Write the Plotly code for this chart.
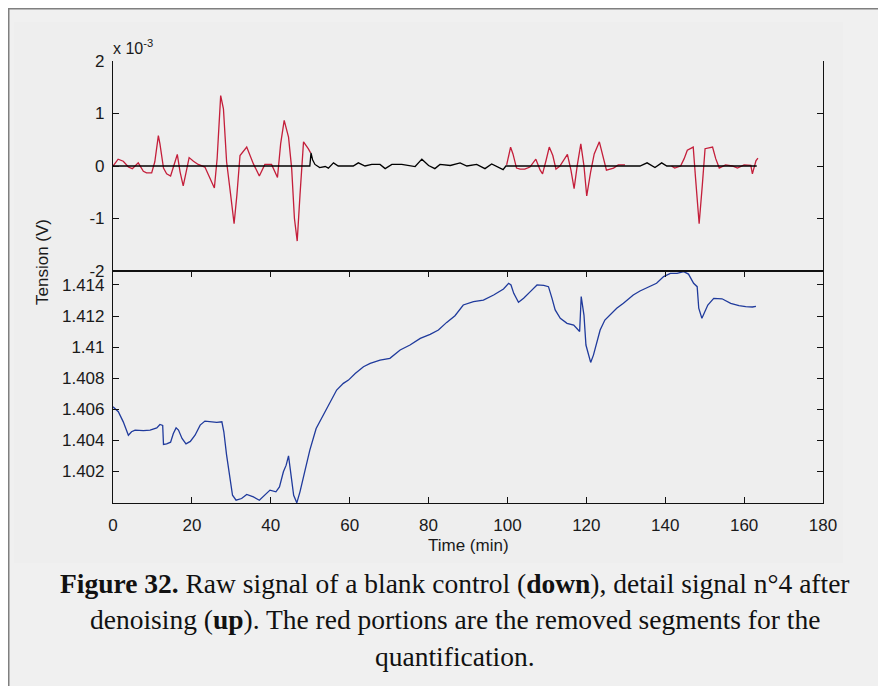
import plotly.graph_objects as go

# page is 886x686; the html body adds an 8 px margin, so the figure is 878x678
W, H = 878, 678
OFF = 8

# ---------------- data ----------------
# Top panel: detail signal n°4 after denoising (values in units of 1e-3 V)
red_t = [0, 1.3, 2.6, 3.9, 4.9, 6.4, 7.7, 8.5, 9.8, 10.6, 11.5, 11.9, 12.8, 13.6, 14.6, 15.5,
         16.3, 17.0, 17.8, 18.5, 19.3, 20.4, 21.6, 23.3, 24.6, 25.7, 26.4, 27.3, 28.0, 28.8,
         29.8, 30.7, 31.4, 32.2, 33.9, 35.6, 37.1, 38.5, 40.2, 41.7, 42.5, 43.4, 44.5, 45.3,
         46.0, 46.7, 47.4, 48.3, 49.5, 50.1, None,
         99.8, 100.8, 101.4, 102.3, 103.2, 104.4, 105.7, 107.2, 108.3, 108.9, 109.8, 110.6,
         111.5, 112.3, 113.3, 114.4, 115.2, 116.1, 116.9, 117.7, 118.6, 119.4, 120.1, 121.1,
         122.0, 123.3, 124.2, 125.1, 126.9, 128.1, 129.8, None,
         141.6, 142.4, 143.9, 144.8, 145.6, 147.1, 147.7, 148.6, 149.4, 150.1, 152.0, 152.8,
         153.7, 155.3, 157.0, 158.3, 160.0, 161.7, 162.1, 163.0, 163.5]
red_v = [0, 0.13, 0.09, -0.02, -0.05, 0.06, -0.10, -0.13, -0.13, 0.08, 0.58, 0.42, -0.04, -0.15,
         -0.19, 0.01, 0.22, -0.11, -0.38, -0.13, 0.16, 0.09, 0.03, -0.02, -0.23, -0.42, 0.14,
         1.34, 1.09, 0.08, -0.53, -1.10, -0.56, 0.20, 0.36, 0.04, -0.19, 0.03, 0.03, -0.22,
         0.42, 0.87, 0.55, -0.05, -1.00, -1.43, -0.56, 0.46, 0.33, 0.25, None,
         0.02, 0.36, 0.23, -0.04, -0.06, -0.06, -0.02, 0.13, -0.08, -0.15, 0.11, 0.36, 0.20,
         -0.06, 0.00, 0.14, 0.22, -0.08, -0.43, 0.01, 0.42, 0.00, -0.57, -0.11, 0.23, 0.46,
         0.17, -0.08, -0.04, 0.02, 0.02, None,
         0.00, -0.04, 0.00, 0.14, 0.30, 0.36, -0.24, -1.10, -0.37, 0.33, 0.36, 0.14, -0.04,
         0.02, 0.00, -0.04, 0.02, 0.01, -0.15, 0.10, 0.15]

black_t = [0, 49.9, 50.2, 50.6, 51.2, 51.8, 52.4, 53.8, 54.6, 55.9, 57.1, 60.9, 62.2, 63.9,
           65.6, 67.7, 69.0, 70.7, 73.2, 76.6, 78.3, 80.0, 81.6, 82.9, 85.5, 88.0, 89.7, 92.2,
           94.3, 96.0, 97.7, 98.9, 99.6, 129.9, 131.1, 133.6, 135.4, 137.4, 139.1, 140.4,
           141.6, 163.2]
black_v = [0, 0, 0.25, 0.12, 0.03, 0.00, -0.03, -0.01, -0.04, 0.06, 0.00, 0.00, 0.06, 0.00,
           0.03, 0.03, -0.05, 0.03, 0.03, -0.01, 0.13, 0.01, -0.05, 0.03, 0.01, 0.06, 0.00,
           0.03, -0.05, 0.04, -0.02, -0.07, 0.00, 0.00, 0.00, 0.00, 0.06, -0.03, 0.06, 0.00,
           0.00, 0.00]

# Bottom panel: raw signal of a blank control (V)
blue_t = [0.0, 1.35, 2.6, 3.9, 4.7, 5.6, 7.7, 9.4, 11.1, 11.9, 12.6, 12.8, 13.6, 14.6, 15.3,
          16.0, 16.6, 17.5, 18.5, 19.6, 20.8, 22.1, 23.3, 24.6, 26.3, 27.6, 28.1, 28.8, 29.7,
          30.3, 31.2, 32.6, 33.9, 35.6, 37.1, 38.5, 39.8, 41.3, 42.2, 43.2, 43.9, 44.5, 45.1,
          45.8, 46.6, 47.4, 48.7, 49.9, 51.5, 52.9, 54.6, 56.7, 58.4, 59.7, 61.4, 63.5, 65.2,
          67.7, 70.2, 72.8, 75.3, 77.9, 80.4, 82.5, 84.6, 86.7, 88.8, 91.4, 93.9, 96.5, 99.0,
          100.3, 100.9, 101.6, 102.8, 104.1, 105.8, 107.5, 109.2, 110.4, 111.3, 112.1, 113.4,
          115.1, 116.8, 117.8, 118.3, 118.7, 119.4, 119.9, 120.5, 121.1, 121.8, 122.6, 123.5,
          124.7, 126.0, 127.7, 129.4, 131.9, 133.6, 136.1, 137.8, 139.6, 141.3, 143.0, 144.7,
          145.9, 147.2, 148.1, 148.5, 149.3, 149.9, 150.8, 152.3, 154.4, 156.6, 158.7, 160.4,
          162.1, 163.0]
blue_v = [1.40615, 1.40583, 1.40518, 1.40432, 1.40454, 1.40465, 1.40461, 1.40465, 1.40479,
          1.40501, 1.40495, 1.40372, 1.40376, 1.40387, 1.40443, 1.40479, 1.40465, 1.40411,
          1.40376, 1.40392, 1.40432, 1.40497, 1.40523, 1.40518, 1.40514, 1.40518, 1.40454,
          1.40303, 1.40153, 1.40045, 1.40013, 1.40024, 1.40050, 1.40034, 1.40013, 1.40045,
          1.40078, 1.40067, 1.40099, 1.40196, 1.40239, 1.40299, 1.40174, 1.40045, 1.39996,
          1.40067, 1.40207, 1.40336, 1.40475, 1.40540, 1.40626, 1.40723, 1.40766, 1.40787,
          1.40830, 1.40873, 1.40895, 1.40916, 1.40927, 1.40981, 1.41013, 1.41056, 1.41082,
          1.41110, 1.41159, 1.41202, 1.41271, 1.41292, 1.41303, 1.41335, 1.41374, 1.41411,
          1.41400, 1.41346, 1.41288, 1.41314, 1.41357, 1.41400, 1.41397, 1.41389, 1.41314,
          1.41239, 1.41185, 1.41153, 1.41142, 1.41110, 1.41100, 1.41325, 1.41206, 1.41013,
          1.40948, 1.40901, 1.40948, 1.41034, 1.41110, 1.41174, 1.41206, 1.41250, 1.41282,
          1.41335, 1.41361, 1.41389, 1.41411, 1.41454, 1.41475, 1.41475, 1.41486, 1.41470,
          1.41411, 1.41389, 1.41250, 1.41185, 1.41218, 1.41271, 1.41314, 1.41311, 1.41282,
          1.41267, 1.41260, 1.41258, 1.41262]

x_ticks = [0, 20, 40, 60, 80, 100, 120, 140, 160, 180]
top_tickvals = [-2, -1, 0, 1, 2]
top_ticktext = ["-2", "-1", "0", "1", "2"]
bot_tickvals = [1.402, 1.404, 1.406, 1.408, 1.410, 1.412, 1.414]
bot_ticktext = ["1.402", "1.404", "1.406", "1.408", "1.41", "1.412", "1.414"]

# ---------------- figure ----------------
def px(x):
    return (x - OFF) / W

def py(y):
    return 1 - (y - OFF) / H

fig = go.Figure()
fig.add_trace(go.Scatter(x=red_t, y=red_v, mode="lines", xaxis="x2", yaxis="y2",
                         line=dict(color="#c41e3a", width=1.3), showlegend=False))
fig.add_trace(go.Scatter(x=black_t, y=black_v, mode="lines", xaxis="x2", yaxis="y2",
                         line=dict(color="#000000", width=1.3), showlegend=False))
fig.add_trace(go.Scatter(x=blue_t, y=blue_v, mode="lines", xaxis="x", yaxis="y",
                         line=dict(color="#1f3a9c", width=1.3), showlegend=False))

tickfont = dict(family="Liberation Sans, Arial, sans-serif", size=17, color="#1a1a1a")
xdom = [px(113), px(823)]
axcommon = dict(showgrid=False, zeroline=False, showline=True, linecolor="#111111",
                linewidth=1.2, tickcolor="#111111", tickwidth=1.2, ticklen=6,
                tickfont=tickfont, automargin=False)

fig.update_layout(
    template="none",
    width=W, height=H, autosize=False,
    margin=dict(l=0, r=0, t=0, b=0, pad=0, autoexpand=False),
    paper_bgcolor="#ffffff",
    plot_bgcolor="rgba(0,0,0,0)",
    showlegend=False,
    xaxis=dict(domain=xdom, range=[0, 180], tickvals=x_ticks, anchor="y", mirror="ticks",
               ticks="inside", ticklabelstandoff=6, **axcommon),
    yaxis=dict(domain=[py(503), py(271)], range=[1.39995, 1.4149], tickvals=bot_tickvals,
               ticktext=bot_ticktext, anchor="x", mirror="ticks", ticks="inside",
               ticklabelstandoff=4, **axcommon),
    xaxis2=dict(domain=xdom, range=[0, 180], anchor="y2", ticks="",
                showticklabels=False, **axcommon),
    yaxis2=dict(domain=[py(271), py(61)], range=[-2, 2], tickvals=top_tickvals,
                ticktext=top_ticktext, anchor="x2", mirror="ticks", ticks="inside",
                ticklabelstandoff=4, **axcommon),
    shapes=[
        dict(type="rect", xref="paper", yref="paper", x0=px(8.5), x1=px(900), y0=py(700),
             y1=py(8.5), fillcolor="#f0f0f0", line=dict(color="#7f7f7f", width=2),
             layer="below"),
        dict(type="rect", xref="paper", yref="paper", x0=px(14), x1=px(843), y0=py(563),
             y1=py(22), fillcolor="#eeeeee", line=dict(width=0), layer="below"),
    ],
)

sans = "Liberation Sans, Arial, sans-serif"
serif = "Liberation Serif, Times New Roman, serif"
fig.add_annotation(x=px(111), y=py(47), xref="paper", yref="paper", xanchor="left",
                   yanchor="middle", text="x 10<sup>-3</sup>", showarrow=False,
                   font=dict(family=sans, size=16, color="#1a1a1a"))
fig.add_annotation(x=px(42), y=py(262), xref="paper", yref="paper", textangle=-90,
                   text="Tension (V)", showarrow=False, xanchor="center", yanchor="middle",
                   font=dict(family=sans, size=17, color="#1a1a1a"))
fig.add_annotation(x=px(468), y=py(545), xref="paper", yref="paper", text="Time (min)",
                   showarrow=False, xanchor="center", yanchor="middle",
                   font=dict(family=sans, size=17, color="#1a1a1a"))

cap_lines = [
    "<b>Figure 32.</b> Raw signal of a blank control (<b>down</b>), detail signal n°4 after",
    "denoising (<b>up</b>). The red portions are the removed segments for the",
    "quantification.",
]
for i, line in enumerate(cap_lines):
    fig.add_annotation(x=px(455), y=py(583 + 36.5 * i), xref="paper", yref="paper",
                       text=line, showarrow=False, xanchor="center", yanchor="middle",
                       font=dict(family=serif, size=27.5, color="#111111"))

fig.write_html("out.html")
